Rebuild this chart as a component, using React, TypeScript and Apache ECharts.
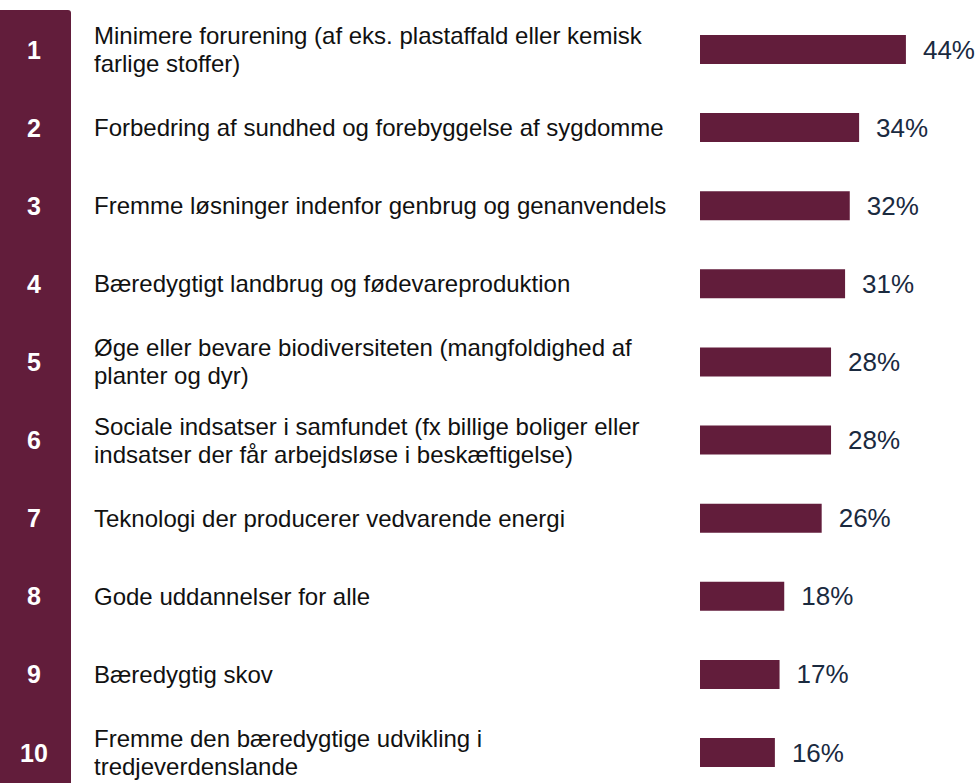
import React, { useEffect, useRef } from "react";
import * as echarts from "echarts";

const ranks = ["1", "2", "3", "4", "5", "6", "7", "8", "9", "10"];
const categories = [
  "Minimere forurening (af eks. plastaffald eller kemisk\nfarlige stoffer)",
  "Forbedring af sundhed og forebyggelse af sygdomme",
  "Fremme løsninger indenfor genbrug og genanvendelse",
  "Bæredygtigt landbrug og fødevareproduktion",
  "Øge eller bevare biodiversiteten (mangfoldighed af\nplanter og dyr)",
  "Sociale indsatser i samfundet (fx billige boliger eller\nindsatser der får arbejdsløse i beskæftigelse)",
  "Teknologi der producerer vedvarende energi",
  "Gode uddannelser for alle",
  "Bæredygtig skov",
  "Fremme den bæredygtige udvikling i\ntredjeverdenslande",
];
const values = [44, 34, 32, 31, 28, 28, 26, 18, 17, 16];

const MAROON = "#621d3b";

export default function App() {
  const ref = useRef<HTMLDivElement>(null);
  useEffect(() => {
    if (!ref.current) return;
    const chart = echarts.init(ref.current, null, { renderer: "svg" });
    chart.setOption({
      animation: false,
      textStyle: { fontFamily: "Liberation Sans, Arial, sans-serif" },
      graphic: {
        z: -10,
        elements: [
          {
            type: "rect",
            z: -10,
            shape: { x: 0, y: 10, width: 71, height: 773, r: [0, 3, 0, 0] },
            style: { fill: MAROON },
          },
        ],
      },
      grid: { left: 700, right: 44, top: 49.5, bottom: 30.5 },
      xAxis: {
        type: "value",
        min: 0,
        max: 50,
        show: false,
      },
      yAxis: [
        {
          type: "category",
          data: categories,
          inverse: true,
          boundaryGap: false,
          axisLine: { show: false },
          axisTick: { show: false },
          splitLine: { show: false },
          axisLabel: {
            align: "left",
            margin: 606,
            width: 577,
            overflow: "truncate",
            ellipsis: "",
            color: "#111111",
            fontSize: 24,
            lineHeight: 28,
            fontFamily: "Liberation Sans, Arial, sans-serif",
          },
        },
        {
          type: "category",
          data: ranks,
          inverse: true,
          boundaryGap: false,
          position: "left",
          axisLine: { show: false },
          axisTick: { show: false },
          splitLine: { show: false },
          axisLabel: {
            align: "center",
            margin: 666,
            color: "#ffffff",
            fontSize: 25,
            fontWeight: "bold",
            fontFamily: "Liberation Sans, Arial, sans-serif",
          },
        },
      ],
      series: [
        {
          type: "bar",
          data: values,
          yAxisIndex: 0,
          barWidth: 29,
          itemStyle: { color: MAROON },
          label: {
            show: true,
            position: "right",
            distance: 17,
            formatter: "{c}%",
            color: "#1a2a3f",
            fontSize: 26,
            fontFamily: "Liberation Sans, Arial, sans-serif",
          },
        },
      ],
    });
    return () => chart.dispose();
  }, []);
  return (
    <div
      ref={ref}
      style={{ position: "fixed", left: 0, top: 0, width: 978, height: 783, background: "#fff" }}
    />
  );
}
